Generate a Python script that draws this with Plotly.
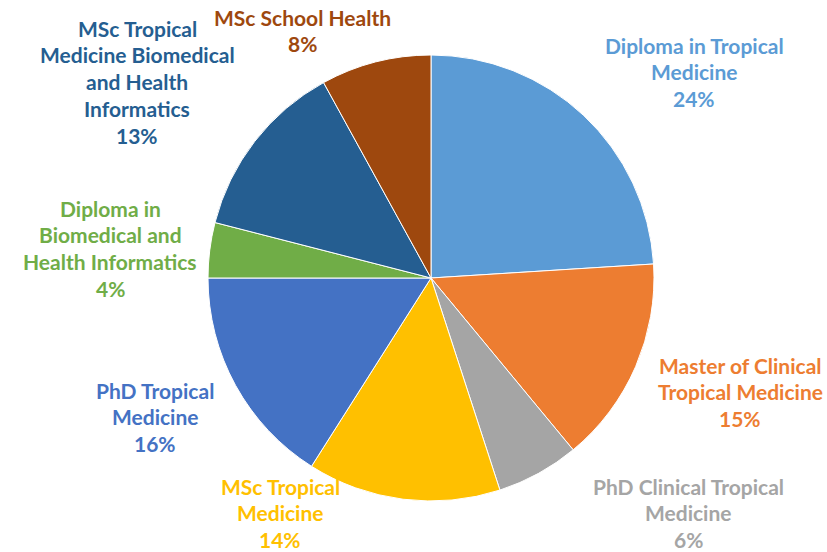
import plotly.graph_objects as go

# Data
categories = [
    "Diploma in Tropical Medicine",
    "Master of Clinical Tropical Medicine",
    "PhD Clinical Tropical Medicine",
    "MSc Tropical Medicine",
    "PhD Tropical Medicine",
    "Diploma in Biomedical and Health Informatics",
    "MSc Tropical Medicine Biomedical and Health Informatics",
    "MSc School Health",
]
values = [24, 15, 6, 14, 16, 4, 13, 8]
wrapped_labels = [
    ["Diploma in Tropical", "Medicine"],
    ["Master of Clinical", "Tropical Medicine"],
    ["PhD Clinical Tropical", "Medicine"],
    ["MSc Tropical", "Medicine"],
    ["PhD Tropical", "Medicine"],
    ["Diploma in", "Biomedical and", "Health Informatics"],
    ["MSc Tropical", "Medicine Biomedical", "and Health", "Informatics"],
    ["MSc School Health"],
]
colors = ["#5B9BD5", "#ED7D31", "#A5A5A5", "#FFC000", "#4472C4", "#70AD47", "#255E91", "#9E480E"]

# Label placement (pixel centre x, first-line y)
label_pos = [(694, 45), (740, 365), (688, 486), (280, 486), (155, 390), (110, 208), (137, 28), (302, 17)]

W, H = 827, 552
cx, cy, r = 431, 278, 223

fig = go.Figure(go.Pie(
    labels=categories,
    values=values,
    sort=False,
    direction="clockwise",
    rotation=0,
    marker=dict(colors=colors, line=dict(color="white", width=1)),
    textinfo="none",
    hoverinfo="label+percent",
    showlegend=False,
    domain=dict(x=[(cx - r) / W, (cx + r) / W], y=[(H - cy - r) / H, (H - cy + r) / H]),
))

total = sum(values)
line_h = 26.8
annotations = []
for lines, v, col, (px, py) in zip(wrapped_labels, values, colors, label_pos):
    all_lines = lines + [f"{round(v / total * 100)}%"]
    for i, t in enumerate(all_lines):
        y = py + i * line_h
        annotations.append(dict(
            x=px / W, y=1 - y / H, xref="paper", yref="paper",
            text=f"<b>{t}</b>", showarrow=False,
            xanchor="center", yanchor="middle",
            font=dict(family="Lato", size=21, color=col),
        ))

fig.update_layout(
    width=W, height=H,
    margin=dict(l=0, r=0, t=0, b=0),
    paper_bgcolor="white", plot_bgcolor="white",
    annotations=annotations,
)

fig.write_html(
    "out.html",
    config={"displayModeBar": False},
    post_script="document.body.style.margin='0';document.body.style.overflow='hidden';",
)
